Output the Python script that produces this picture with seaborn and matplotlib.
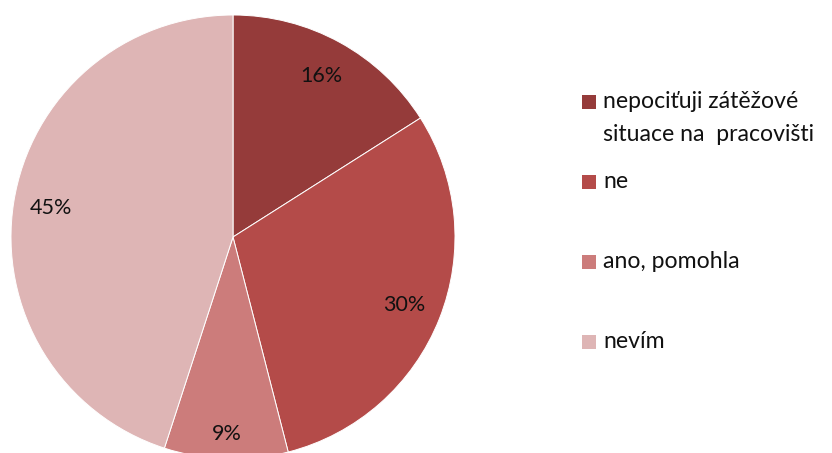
import matplotlib
matplotlib.use("Agg")
import matplotlib.pyplot as plt
from matplotlib.patches import Rectangle
import numpy as np
import seaborn as sns

# Survey answers: did the workplace help with stressful situations?
categories = ["nepociťuji zátěžové\nsituace na  pracovišti", "ne", "ano, pomohla", "nevím"]
shares = [16, 30, 9, 45]
colors = ["#953B3A", "#B44B49", "#CC7C7B", "#DEB5B5"]
label_distance = [0.83, 0.83, 0.89, 0.83]

sns.set_theme(style="white")
plt.rcParams["font.family"] = ["Lato", "DejaVu Sans"]

W, H = 832, 453
fig = plt.figure(figsize=(W / 100, H / 100), dpi=100)
fig.patch.set_facecolor("white")

# pie axes: centre (233, 237) px, radius 222 px
cx, cy, r = 233, 237, 222
ax = fig.add_axes([(cx - r) / W, (H - cy - r) / H, 2 * r / W, 2 * r / H])
wedges, _ = ax.pie(
    shares,
    colors=colors,
    startangle=90,
    counterclock=False,
    radius=1.0,
    wedgeprops=dict(edgecolor="white", linewidth=0.7),
)
ax.set_xlim(-1, 1)
ax.set_ylim(-1, 1)
ax.set_aspect("equal")
ax.axis("off")

for w, val, d in zip(wedges, shares, label_distance):
    mid = np.deg2rad((w.theta1 + w.theta2) / 2)
    ax.text(d * np.cos(mid), d * np.sin(mid), f"{val}%",
            ha="center", va="center", fontsize=15.5, color="#111111")

# legend: square markers with text, evenly spaced rows
for i, (lab, col) in enumerate(zip(categories, colors)):
    y_px = 102 + 80 * i
    fig.patches.append(Rectangle((582 / W, (H - y_px - 7) / H), 14 / W, 14 / H,
                                 transform=fig.transFigure, facecolor=col,
                                 edgecolor="none"))
    fig.text(603 / W, (H - y_px + 10.5) / H, lab, ha="left", va="top",
             fontsize=16.6, color="#111111", linespacing=1.66)

fig.savefig("out.png", dpi=100, facecolor="white")
